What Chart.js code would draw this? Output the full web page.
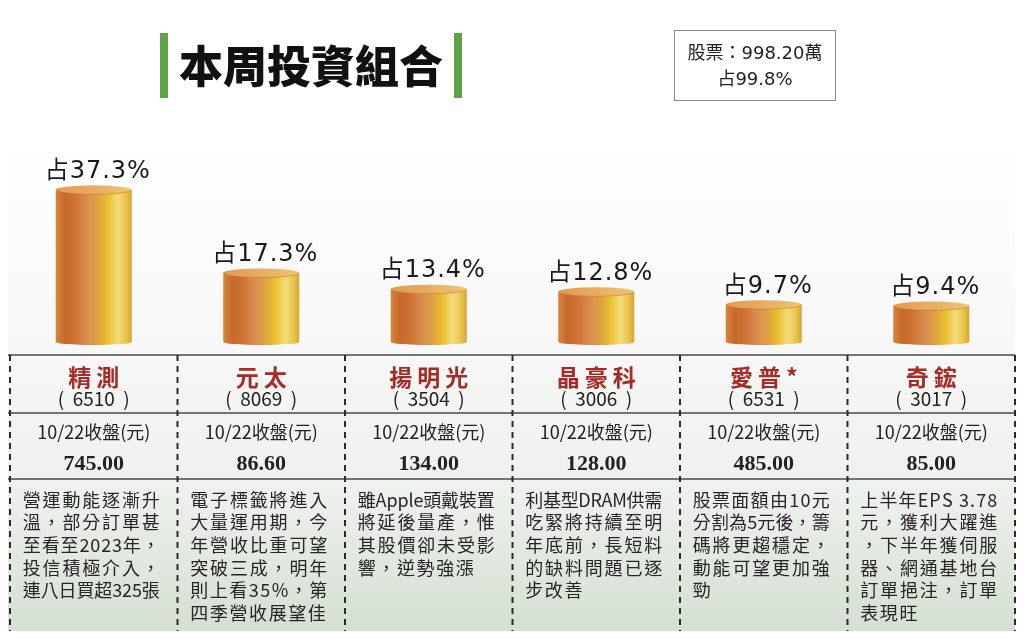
<!DOCTYPE html>
<html>
<head>
<meta charset="utf-8">
<script src="https://cdn.jsdelivr.net/npm/chart.js@4"></script>
<style>
  html, body { margin: 0; padding: 0; background: #ffffff; }
  #wrap { width: 1024px; height: 638px; }
</style>
</head>
<body>
<div id="wrap"><canvas id="chart" width="1024" height="638"></canvas></div>
<script>
// data
const stockNames = ['精測', '元太', '揚明光', '晶豪科', '愛普*', '奇鋐'];
const stockCodes = ['6510', '8069', '3504', '3006', '6531', '3017'];
const weights = [37.3, 17.3, 13.4, 12.8, 9.7, 9.4];
const closePrices = ['745.00', '86.60', '134.00', '128.00', '485.00', '85.00'];
const priceLabel = '10/22收盤(元)';
const notes = [
    ['營運動能逐漸升', '溫，部分訂單甚', '至看至2023年，', '投信積極介入，', '連八日買超325張'],
    ['電子標籤將進入', '大量運用期，今', '年營收比重可望', '突破三成，明年', '則上看35%，第', '四季營收展望佳'],
    ['雖Apple頭戴裝置', '將延後量產，惟', '其股價卻未受影', '響，逆勢強漲'],
    ['利基型DRAM供需', '吃緊將持續至明', '年底前，長短料', '的缺料問題已逐', '步改善'],
    ['股票面額由10元', '分割為5元後，籌', '碼將更趨穩定，', '動能可望更加強', '勁'],
    ['上半年EPS 3.78', '元，獲利大躍進', '，下半年獲伺服', '器、網通基地台', '訂單挹注，訂單', '表現旺']
];
const chartTitle = '本周投資組合';
const totalLines = ['股票：998.20萬', '占99.8%'];

const CJK = '"Noto Sans CJK TC", "Noto Sans CJK SC", sans-serif';

function drawJustified(ctx, text, x, y, width, justify) {
    const chars = Array.from(text);
    const widths = chars.map(c => ctx.measureText(c).width);
    const total = widths.reduce((a, b) => a + b, 0);
    let gap = 1.6;
    if (chars.length > 1) {
        const fit = (width - total) / (chars.length - 1);
        gap = justify ? fit : Math.min(gap, fit);
    }
    let cx = x;
    chars.forEach((c, i) => {
        ctx.fillText(c, cx, y);
        cx += widths[i] + gap;
    });
}

const pagePlugin = {
    id: 'pagePlugin',
    beforeDraw(chart) {
        const ctx = chart.ctx;
        const xs = chart.scales.x;
        const area = chart.chartArea;
        const colW = (area.right - area.left) / stockNames.length;
        const tableTop = 355, row2 = 413, row3 = 479, tableBottom = 631;

        ctx.save();
        // panel background
        const bg = ctx.createLinearGradient(0, area.top, 0, tableBottom);
        bg.addColorStop(0, '#ffffff');
        bg.addColorStop(0.45, '#f6f7f6');
        bg.addColorStop(0.72, '#edf1ec');
        bg.addColorStop(1, '#d5dfd3');
        ctx.fillStyle = bg;
        ctx.fillRect(area.left - 2, area.top, area.right - area.left + 2, tableBottom - area.top);

        // title
        ctx.fillStyle = '#5ea446';
        ctx.fillRect(160, 33, 8, 65);
        ctx.fillRect(454, 33, 8, 65);
        ctx.fillStyle = '#111111';
        ctx.font = '900 44px ' + CJK;
        ctx.textAlign = 'center';
        ctx.textBaseline = 'middle';
        ctx.fillText(chartTitle, 311, 66);

        // total box
        ctx.strokeStyle = '#8a8a8a';
        ctx.lineWidth = 1;
        ctx.strokeRect(674.5, 30.5, 161, 70);
        ctx.fillStyle = '#222222';
        ctx.font = '18px "DejaVu Sans", ' + CJK;
        ctx.fillText(totalLines[0], 755, 54);
        ctx.fillText(totalLines[1], 755, 80);

        // table lines
        ctx.strokeStyle = '#4a4a4a';
        ctx.lineWidth = 1.5;
        [tableTop, row2, row3].forEach(y => {
            ctx.beginPath();
            ctx.moveTo(area.left - 2, y);
            ctx.lineTo(area.right, y);
            ctx.stroke();
        });
        ctx.setLineDash([6, 5]);
        ctx.lineWidth = 2;
        ctx.strokeStyle = '#2a2a2a';
        for (let i = 0; i <= stockNames.length; i++) {
            const x = area.left + i * colW;
            ctx.beginPath();
            ctx.moveTo(x, tableTop);
            ctx.lineTo(x, tableBottom);
            ctx.stroke();
        }
        ctx.setLineDash([]);

        // table text
        stockNames.forEach((name, i) => {
            const cx = xs.getPixelForValue(i);
            ctx.textAlign = 'center';
            ctx.textBaseline = 'middle';
            ctx.fillStyle = '#a82a26';
            ctx.font = 'bold 23px ' + CJK;
            ctx.letterSpacing = '5px';
            ctx.fillText(name, cx + 2.5, 377);
            ctx.letterSpacing = '0px';
            ctx.fillStyle = '#222222';
            ctx.font = '19px ' + CJK;
            ctx.fillText('(  ' + stockCodes[i] + '  )', cx, 399);
            ctx.font = '18px ' + CJK;
            ctx.fillText(priceLabel, cx, 432);
            ctx.font = 'bold 22px "Liberation Serif", serif';
            ctx.fillText(closePrices[i], cx, 464);

            ctx.textAlign = 'left';
            ctx.font = '18px ' + CJK;
            ctx.fillStyle = '#262626';
            const lines = notes[i];
            lines.forEach((line, j) => {
                drawJustified(ctx, line, cx - 71, 500 + j * 22.6, 137, j < lines.length - 1);
            });
        });
        ctx.restore();
    },
    afterDatasetsDraw(chart) {
        const ctx = chart.ctx;
        const meta = chart.getDatasetMeta(0);
        ctx.save();
        meta.data.forEach((bar, i) => {
            const w = bar.width;
            const l = bar.x - w / 2, r = bar.x + w / 2;
            const top = bar.y, base = bar.base;
            const ry = 4.5, by = 3;

            const g = ctx.createLinearGradient(l, 0, r, 0);
            g.addColorStop(0, '#d4883c');
            g.addColorStop(0.12, '#c8682a');
            g.addColorStop(0.26, '#ce7434');
            g.addColorStop(0.42, '#d98f52');
            g.addColorStop(0.56, '#dfa340');
            g.addColorStop(0.68, '#e9bf2e');
            g.addColorStop(0.82, '#f3dc7c');
            g.addColorStop(0.93, '#e9c24a');
            g.addColorStop(1, '#d9a232');
            ctx.fillStyle = g;
            ctx.beginPath();
            ctx.moveTo(l, top);
            ctx.lineTo(l, base - by);
            ctx.ellipse(bar.x, base - by, w / 2, by, 0, Math.PI, 0, true);
            ctx.lineTo(r, top);
            ctx.closePath();
            ctx.fill();

            const tg = ctx.createLinearGradient(l, 0, r, 0);
            tg.addColorStop(0, '#e29a52');
            tg.addColorStop(0.5, '#e8ad62');
            tg.addColorStop(1, '#eec672');
            ctx.fillStyle = tg;
            ctx.beginPath();
            ctx.ellipse(bar.x, top, w / 2, ry, 0, 0, Math.PI * 2);
            ctx.fill();
            ctx.strokeStyle = 'rgba(190,110,40,0.5)';
            ctx.lineWidth = 1;
            ctx.beginPath();
            ctx.ellipse(bar.x, top, w / 2 - 0.5, ry, 0, 0, Math.PI);
            ctx.stroke();

            ctx.fillStyle = '#1a1a1a';
            ctx.font = '24px "DejaVu Sans", ' + CJK;
            ctx.letterSpacing = '1px';
            ctx.textAlign = 'center';
            ctx.textBaseline = 'bottom';
            ctx.fillText('占' + weights[i] + '%', bar.x + 4, top - 6);
            ctx.letterSpacing = '0px';
        });
        ctx.restore();
    }
};

new Chart(document.getElementById('chart'), {
    type: 'bar',
    data: {
        labels: stockNames,
        datasets: [{
            data: weights,
            backgroundColor: 'rgba(0,0,0,0)',
            borderWidth: 0,
            categoryPercentage: 1,
            barPercentage: 0.454
        }]
    },
    options: {
        responsive: false,
        animation: false,
        layout: { padding: { left: 10, right: 9, top: 137, bottom: 293 } },
        plugins: {
            legend: { display: false },
            tooltip: { enabled: false }
        },
        scales: {
            x: { display: false },
            y: { display: false, min: 0, max: 50 }
        }
    },
    plugins: [pagePlugin]
});
</script>
</body>
</html>
